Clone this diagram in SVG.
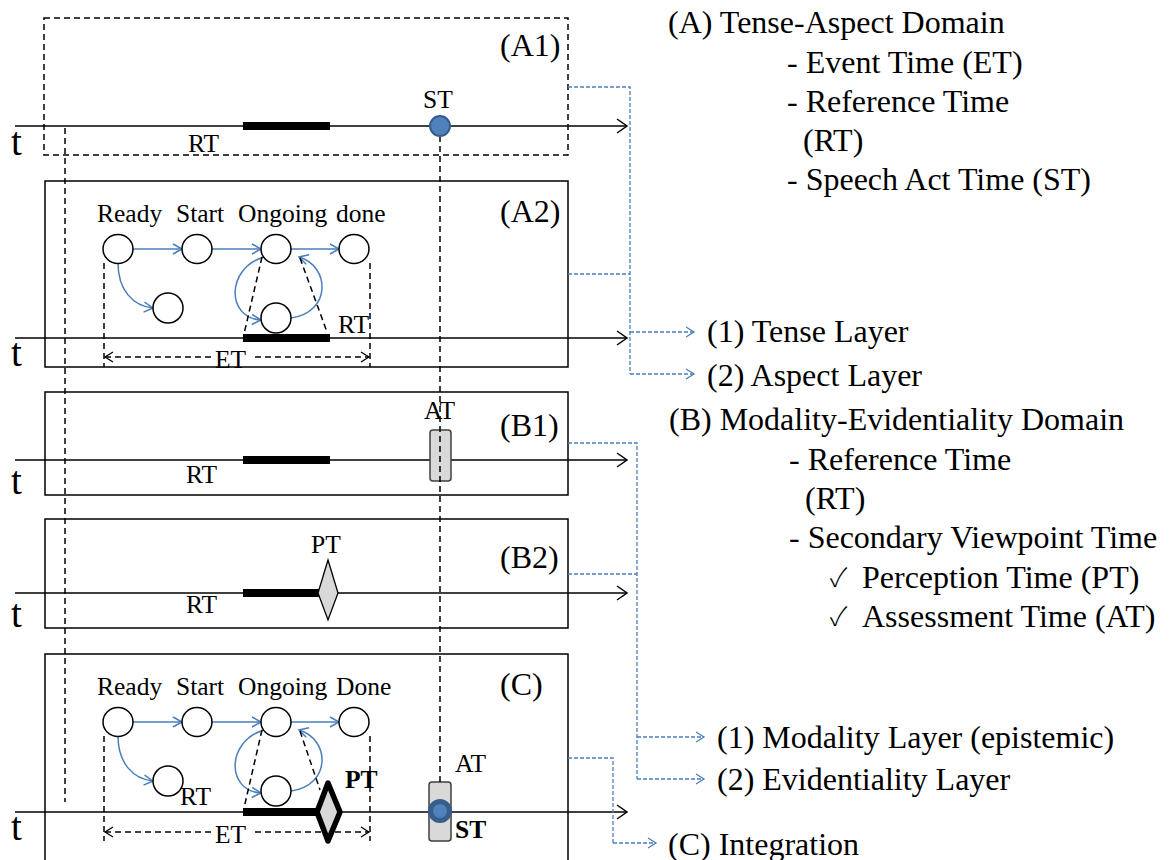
<svg xmlns="http://www.w3.org/2000/svg" xmlns:xlink="http://www.w3.org/1999/xlink" width="1172" height="860" viewBox="0 0 1172 860">
<style>
  text { font-family: "Liberation Serif", "Times New Roman", serif; fill: #000; }
  .big { font-size: 32px; }
  .lbl { font-size: 25.5px; }
  .tag { font-size: 32px; }
  .tt { font-size: 39px; }
  .chk { font-family: "Noto Sans CJK JP", "DejaVu Sans", sans-serif; font-size: 26px; font-weight: 300; }
  .frame { fill: #fff; stroke: #000; stroke-width: 1.5; }
  .frame-d { fill: none; stroke: #000; stroke-width: 1.5; stroke-dasharray: 6 4; }
  .axis { stroke: #000; stroke-width: 1.5; fill: none; marker-end: url(#tip); }
  .bar { stroke: #000; stroke-width: 8; }
  .guide { stroke: #000; stroke-width: 1.5; stroke-dasharray: 6 4; fill: none; }
  .node { fill: #fff; stroke: #000; stroke-width: 1.5; }
  .flow { stroke: #4a7ebb; stroke-width: 1.5; fill: none; marker-end: url(#btip); }
  .link { stroke: #4a7ebb; stroke-width: 1.3; stroke-dasharray: 4 2; fill: none; }
  .link-a { stroke: #4a7ebb; stroke-width: 1.3; stroke-dasharray: 4 2; fill: none; marker-end: url(#btip2); }
  .span { stroke: #000; stroke-width: 1.3; stroke-dasharray: 6 4; fill: none; marker-start: url(#ktipS); marker-end: url(#ktip); }
  .at { fill: #d9d9d9; stroke: #404040; stroke-width: 1.5; }
  .st { fill: #4f81bd; stroke: #385d8a; stroke-width: 2; }
</style>
<defs>
  <marker id="tip" markerWidth="14" markerHeight="16" refX="12" refY="8" orient="auto" markerUnits="userSpaceOnUse">
    <path d="M2 1 L12 8 L2 15" fill="none" stroke="#000" stroke-width="1.5"/>
  </marker>
  <marker id="btip" markerWidth="14" markerHeight="14" refX="12" refY="7" orient="auto" markerUnits="userSpaceOnUse">
    <path d="M3 2 L12 7 L3 12" fill="none" stroke="#4a7ebb" stroke-width="1.5"/>
  </marker>
  <marker id="btip2" markerWidth="14" markerHeight="14" refX="12" refY="7" orient="auto" markerUnits="userSpaceOnUse">
    <path d="M4 2 L12 7 L4 12" fill="none" stroke="#4a7ebb" stroke-width="1.3"/>
  </marker>
  <marker id="ktip" markerWidth="14" markerHeight="14" refX="12" refY="7" orient="auto" markerUnits="userSpaceOnUse">
    <path d="M4 2 L12 7 L4 12" fill="none" stroke="#000" stroke-width="1.3"/>
  </marker>
  <marker id="ktipS" markerWidth="14" markerHeight="14" refX="2" refY="7" orient="auto" markerUnits="userSpaceOnUse">
    <path d="M10 2 L2 7 L10 12" fill="none" stroke="#000" stroke-width="1.3"/>
  </marker>
  <!-- aspect state machine: Ready, Start, Ongoing, Done and two side states -->
  <g id="machine">
    <path class="flow" d="M133 249 L182 249"/>
    <path class="flow" d="M212 249 L261 249"/>
    <path class="flow" d="M291 249 L339 249"/>
    <path class="flow" d="M118 263 C118 290 133 306 153 308"/>
    <path class="flow" d="M264 257 C226 268 226 318 261 320"/>
    <path class="flow" d="M291 318 C332 312 330 266 299 257"/>
    <ellipse class="node" cx="118" cy="249" rx="15" ry="14.5"/>
    <ellipse class="node" cx="197" cy="249" rx="15" ry="14.5"/>
    <ellipse class="node" cx="276" cy="249" rx="15" ry="14.5"/>
    <ellipse class="node" cx="354" cy="249" rx="15" ry="14.5"/>
    <ellipse class="node" cx="168" cy="308" rx="15" ry="15"/>
    <ellipse class="node" cx="276" cy="318" rx="15" ry="15"/>
  </g>
</defs>

<rect width="1172" height="860" fill="#fff"/>

<!-- (A1) tense view -->
<g id="A1">
  <rect class="frame-d" x="44" y="18" width="524" height="137"/>
  <text class="tag" x="500" y="56">(A1)</text>
  <text class="tt" x="11" y="155">t</text>
  <line class="axis" x1="15" y1="126" x2="627" y2="126"/>
  <line class="bar" x1="243" y1="126" x2="330" y2="126"/>
  <text class="lbl" x="188" y="152">RT</text>
  <text class="lbl" x="423" y="108">ST</text>
</g>

<!-- (A2) aspect view -->
<g id="A2">
  <rect class="frame" x="45" y="181" width="523" height="186"/>
  <text class="tag" x="500" y="222">(A2)</text>
  <text class="lbl" x="97" y="222">Ready</text>
  <text class="lbl" x="176" y="222">Start</text>
  <text class="lbl" x="238" y="222">Ongoing</text>
  <text class="lbl" x="336" y="222">done</text>
  <use href="#machine" xlink:href="#machine"/>
  <line class="guide" x1="104" y1="263" x2="104" y2="367"/>
  <line class="guide" x1="370" y1="263" x2="370" y2="367"/>
  <line class="guide" x1="262" y1="257" x2="244" y2="334"/>
  <line class="guide" x1="300" y1="258" x2="327" y2="332"/>
  <text class="tt" x="11" y="366">t</text>
  <line class="axis" x1="15" y1="338" x2="627" y2="338"/>
  <line class="bar" x1="243" y1="338" x2="330" y2="338"/>
  <text class="lbl" x="338" y="333">RT</text>
  <line class="span" x1="105" y1="357" x2="369" y2="357"/>
  <rect x="215" y="346" width="36" height="20" fill="#fff"/>
  <text class="lbl" x="215" y="368">ET</text>
</g>

<!-- (B1) modality view -->
<g id="B1">
  <rect class="frame" x="45" y="392" width="523" height="103"/>
  <text class="tag" x="500" y="436">(B1)</text>
  <text class="tt" x="11" y="494">t</text>
  <line class="axis" x1="15" y1="460" x2="627" y2="460"/>
  <line class="bar" x1="243" y1="460" x2="330" y2="460"/>
  <text class="lbl" x="186" y="483">RT</text>
  <rect class="at" x="430" y="430" width="21" height="51" rx="3"/>
  <text class="lbl" x="424" y="419">AT</text>
</g>

<!-- (B2) evidentiality view -->
<g id="B2">
  <rect class="frame" x="45" y="519" width="523" height="109"/>
  <text class="tag" x="500" y="568">(B2)</text>
  <text class="tt" x="11" y="627">t</text>
  <line class="axis" x1="15" y1="593" x2="627" y2="593"/>
  <line class="bar" x1="243" y1="593" x2="320" y2="593"/>
  <polygon points="328,560 338,593 328,620 318,593" fill="#d9d9d9" stroke="#000" stroke-width="1.3"/>
  <text class="lbl" x="311" y="553">PT</text>
  <text class="lbl" x="186" y="613">RT</text>
</g>

<!-- (C) integrated view -->
<g id="C">
  <rect class="frame" x="45" y="654" width="523" height="220"/>
  <text class="tag" x="500" y="695">(C)</text>
  <text class="lbl" x="97" y="695">Ready</text>
  <text class="lbl" x="176" y="695">Start</text>
  <text class="lbl" x="238" y="695">Ongoing</text>
  <text class="lbl" x="336" y="695">Done</text>
  <use href="#machine" xlink:href="#machine" transform="translate(0,473)"/>
  <line class="guide" x1="104" y1="736" x2="104" y2="841"/>
  <line class="guide" x1="370" y1="736" x2="370" y2="841"/>
  <line class="guide" x1="262" y1="730" x2="244" y2="808"/>
  <line class="guide" x1="300" y1="731" x2="320" y2="790"/>
  <text class="lbl" x="180" y="805">RT</text>
  <text class="tt" x="11" y="840">t</text>
  <line class="axis" x1="15" y1="812" x2="627" y2="812"/>
  <line class="span" x1="105" y1="832" x2="369" y2="832"/>
  <rect x="215" y="821" width="36" height="20" fill="#fff"/>
  <text class="lbl" x="215" y="843">ET</text>
  <line x1="243" y1="812" x2="320" y2="812" stroke="#000" stroke-width="8"/>
  <polygon points="328,783 340,812 328,841 317,812" fill="#d9d9d9" stroke="#000" stroke-width="5.5" stroke-linejoin="round"/>
  <text class="lbl" x="345" y="788" font-weight="bold">PT</text>
  <rect class="at" x="429" y="782" width="22" height="59" rx="3"/>
  <circle cx="440" cy="811" r="9.5" fill="#4f81bd" stroke="#385d8a" stroke-width="5"/>
  <text class="lbl" x="455" y="772">AT</text>
  <text class="lbl" x="455" y="838" font-weight="bold">ST</text>
</g>

<!-- vertical time guides -->
<g id="guides">
  <line class="guide" x1="65" y1="128" x2="65" y2="802"/>
  <line class="guide" x1="440" y1="136" x2="440" y2="782"/>
  <circle class="st" cx="440" cy="126" r="10"/>
</g>

<!-- legend -->
<g id="legend-A">
  <text class="big" x="668" y="33">(A) Tense-Aspect Domain</text>
  <text class="big" x="787" y="73">- Event Time (ET)</text>
  <text class="big" x="787" y="112">- Reference Time</text>
  <text class="big" x="803" y="151">(RT)</text>
  <text class="big" x="787" y="190">- Speech Act Time (ST)</text>
</g>
<g id="layer-tense"><text class="big" x="707" y="342">(1) Tense Layer</text></g>
<g id="layer-aspect"><text class="big" x="707" y="386">(2) Aspect Layer</text></g>
<g id="legend-B">
  <text class="big" x="669" y="430">(B) Modality-Evidentiality Domain</text>
  <text class="big" x="789" y="470">- Reference Time</text>
  <text class="big" x="805" y="509">(RT)</text>
  <text class="big" x="789" y="548">- Secondary Viewpoint Time</text>
  <text class="chk" x="830" y="587">✓</text>
  <text class="big" x="862" y="588">Perception Time (PT)</text>
  <text class="chk" x="830" y="626">✓</text>
  <text class="big" x="862" y="627">Assessment Time (AT)</text>
</g>
<g id="layer-modality"><text class="big" x="717" y="748">(1) Modality Layer (epistemic)</text></g>
<g id="layer-evidentiality"><text class="big" x="717" y="790">(2) Evidentiality Layer</text></g>
<g id="integration"><text class="big" x="668" y="855">(C) Integration</text></g>

<!-- connectors from views to layers -->
<g id="connectors">
  <path class="link" d="M568 87 H630 V374"/>
  <path class="link" d="M568 274 H630"/>
  <path class="link-a" d="M630 332 H694"/>
  <path class="link-a" d="M630 374 H694"/>
  <path class="link" d="M568 443 H637 V779"/>
  <path class="link" d="M568 574 H637"/>
  <path class="link-a" d="M637 737 H704"/>
  <path class="link-a" d="M637 779 H704"/>
  <path class="link" d="M568 758 H613 V843"/>
  <path class="link-a" d="M613 843 H656"/>
</g>
</svg>
